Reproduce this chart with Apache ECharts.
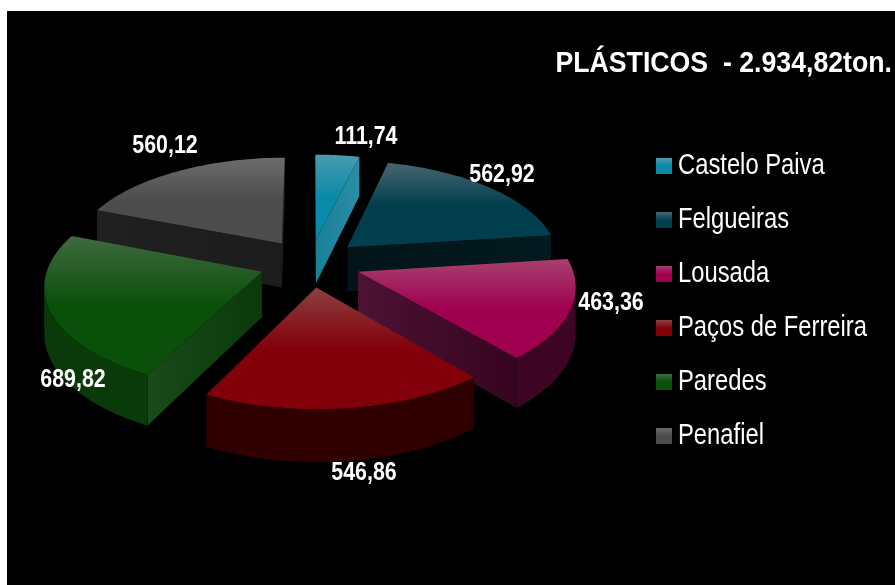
<!DOCTYPE html>
<html><head><meta charset="utf-8">
<style>html,body{margin:0;padding:0;background:#fff}#c{width:895px;height:585px}</style>
<script src="https://cdn.jsdelivr.net/npm/echarts@6/dist/echarts.min.js"></script>
</head><body><div id="c"></div>
<script>
const titleText = 'PLÁSTICOS  - 2.934,82ton.';
const categories = ['Castelo Paiva','Felgueiras','Lousada','Paços de Ferreira','Paredes','Penafiel'];
const values = [111.74,562.92,463.36,546.86,689.82,560.12];

// layout & style, kept apart from the data
const FONT = '"Liberation Sans",Arial,sans-serif';
const drawOrder = [0,5,1,4,2,3];
const lightTop = ['#4a9bb0','#47666f','#a8406f','#8c4040','#3f6a3f','#6c6c6c'];
const baseTop  = ['#0a8aa8','#023f4e','#a00050','#82000a','#0a4f0a','#4c4c4c'];
const wallArc  = ['#1a7f98','#021418','#3c0524','#300000','#0a3a0a','#202020'];
const wallCutA = ['#1a7f98','#021418','#4d1234','#300000','#1a4a1a','#202020'];
const wallCutB = ['#2a8ea6','#021a20','#36041f','#300000','#0a3a0a','#1c1c1c'];
const labelCenters = [[366,137],[502,175],[611,303],[364,473],[73,380],[165,146]];
const CX=310, CY=263, R=213, TILT=0.472, PERSP=0.12, DEPTH=45, EXPLODE=51;
const LEGEND_X=656, LEGEND_Y=158, LEGEND_STEP=54, SWATCH=16;

const total = values.reduce((a,b)=>a+b,0);
const fmt = v => v.toFixed(2).replace('.',',');
const startAngles = values.map((_,i)=>values.slice(0,i).reduce((a,b)=>a+b,0)/total*2*Math.PI);

function project(x,y,z){
  const s = 1/(1+PERSP*y/R);
  return [CX+x*s, CY-y*TILT*s+z*s];
}
const vGrad = (a,b)=>new echarts.graphic.LinearGradient(0,0,0,1,[{offset:0,color:a},{offset:.5,color:b},{offset:1,color:b}]);
const hGrad = (a,b)=>new echarts.graphic.LinearGradient(0,0,1,0,[{offset:0,color:a},{offset:1,color:b}]);
const area = p=>{let s=0;for(let i=0;i<p.length;i++){const q=p[(i+1)%p.length];s+=p[i][0]*q[1]-q[0]*p[i][1];}return s/2;};

function sectorRenderer(i){
  return function(params,api){
    const v = api.value(0);
    const a0 = startAngles[i], a1 = a0+v/total*2*Math.PI, mid=(a0+a1)/2;
    const ox = EXPLODE*Math.sin(mid), oy = EXPLODE*Math.cos(mid);
    const pt = (r,a,z)=>project(ox+r*Math.sin(a), oy+r*Math.cos(a), z);
    const N = 48, children=[];
    const arcTop=[], arcBot=[];
    for(let k=0;k<=N;k++){const a=a0+(a1-a0)*k/N; arcTop.push(pt(R,a,0)); arcBot.push(pt(R,a,DEPTH));}
    const apexT=pt(0,0,0), apexB=pt(0,0,DEPTH);
    const quad=(pts,fill)=>children.push({type:'polygon',shape:{points:pts},style:{fill}});
    // cut faces: visible only when they face the viewer
    const cutA=[apexT,arcTop[0],arcBot[0],apexB];
    const cutB=[apexT,apexB,arcBot[N],arcTop[N]];
    if(area(cutA)<0) quad(cutA,hGrad(wallCutA[i],wallCutB[i]));
    if(area(cutB)<0) quad(cutB,hGrad(wallCutA[i],wallCutB[i]));
    // outer rim: the run of segments facing the viewer, as one face
    const vis=[];
    for(let k=0;k<N;k++){
      if(area([arcTop[k],arcTop[k+1],arcBot[k+1],arcBot[k]])<0){ if(!vis.length) vis.push(k); vis.push(k+1); }
    }
    if(vis.length) quad(vis.map(k=>arcTop[k]).concat(vis.slice().reverse().map(k=>arcBot[k])),wallArc[i]);
    // top face
    quad([apexT].concat(arcTop),vGrad(lightTop[i],baseTop[i]));
    children.push({type:'text',z2:50,x:labelCenters[i][0],y:labelCenters[i][1],scaleX:0.855,
      style:{text:fmt(v),x:0,y:0,align:'center',verticalAlign:'middle',fill:'#fff',font:'bold 25px '+FONT}});
    return {type:'group',children};
  };
}

const legendElements = [];
categories.forEach((name,i)=>{
  const y = LEGEND_Y+i*LEGEND_STEP;
  legendElements.push({type:'rect',shape:{x:LEGEND_X,y,width:SWATCH,height:SWATCH},style:{fill:vGrad(lightTop[i],baseTop[i])}});
  legendElements.push({type:'text',x:LEGEND_X+22,y:y+SWATCH/2,scaleX:0.82,
    style:{text:name,x:0,y:0,align:'left',verticalAlign:'middle',fill:'#fff',font:'29px '+FONT}});
});

const chart = echarts.init(document.getElementById('c'));
chart.setOption({
  animation:false,
  backgroundColor:'#ffffff',
  graphic:[
    {type:'rect',z:-10,shape:{x:7,y:11,width:888,height:574},style:{fill:'#000'}},
    {type:'text',x:892,y:64,scaleX:0.92,style:{text:titleText,x:0,y:0,align:'right',verticalAlign:'middle',fill:'#fff',font:'bold 29px '+FONT}}
  ].concat(legendElements),
  series:categories.map((name,i)=>({
    type:'custom',name,coordinateSystem:'none',silent:true,
    z:2+drawOrder.indexOf(i),
    itemStyle:{color:baseTop[i]},
    data:[[values[i]]],
    renderItem:sectorRenderer(i)
  }))
});
</script></body></html>
